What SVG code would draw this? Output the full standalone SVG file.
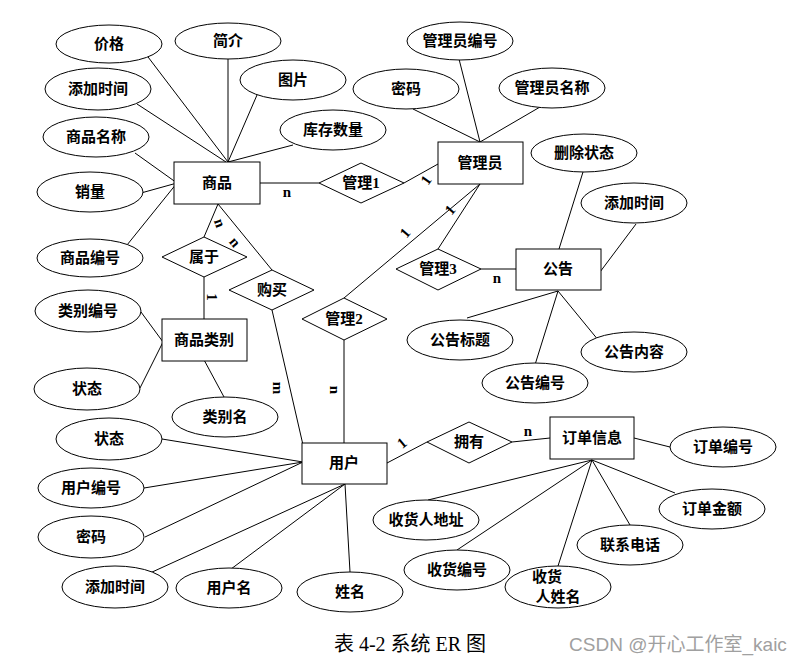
<svg xmlns="http://www.w3.org/2000/svg" width="801" height="662" viewBox="0 0 801 662">
<style>
.e{fill:#fff;stroke:#000;stroke-width:1}
.r{fill:#fff;stroke:#000;stroke-width:1}
.d{fill:#fff;stroke:#000;stroke-width:1}
.t{font-family:"Liberation Serif","Noto Sans CJK SC",serif;font-size:15px;font-weight:bold;text-anchor:middle;dominant-baseline:central;fill:#000}
.l{font-family:"Liberation Serif",serif;font-size:15px;font-weight:bold;text-anchor:middle;dominant-baseline:central;fill:#000}
#conn line{stroke:#000;stroke-width:1}
</style>
<rect width="801" height="662" fill="#fff"/>
<g id="conn">
<line x1="145" y1="53" x2="228" y2="162"/>
<line x1="228" y1="59" x2="228" y2="162"/>
<line x1="257" y1="95" x2="228" y2="162"/>
<line x1="293" y1="145" x2="228" y2="162"/>
<line x1="137" y1="104" x2="226" y2="162"/>
<line x1="135" y1="153" x2="177" y2="183"/>
<line x1="141" y1="193" x2="177" y2="183"/>
<line x1="127" y1="245" x2="177" y2="183"/>
<line x1="260" y1="183" x2="319" y2="183"/>
<line x1="404" y1="183" x2="438" y2="164"/>
<line x1="459" y1="59" x2="480" y2="142"/>
<line x1="413" y1="109" x2="480" y2="142"/>
<line x1="540" y1="107" x2="480" y2="142"/>
<line x1="480" y1="184" x2="438" y2="249"/>
<line x1="480" y1="184" x2="344" y2="298"/>
<line x1="481" y1="269" x2="516" y2="269"/>
<line x1="583" y1="172" x2="559" y2="249"/>
<line x1="636" y1="224" x2="600" y2="272"/>
<line x1="558" y1="291" x2="467" y2="318"/>
<line x1="558" y1="291" x2="534" y2="368"/>
<line x1="558" y1="291" x2="599" y2="341"/>
<line x1="218" y1="204" x2="204" y2="237"/>
<line x1="218" y1="204" x2="272" y2="270"/>
<line x1="204" y1="277" x2="204" y2="319"/>
<line x1="141" y1="312" x2="163" y2="342"/>
<line x1="140" y1="388" x2="163" y2="342"/>
<line x1="203" y1="358" x2="224" y2="397"/>
<line x1="272" y1="310" x2="303" y2="445"/>
<line x1="344" y1="340" x2="344" y2="443"/>
<line x1="162" y1="439" x2="303" y2="462"/>
<line x1="144" y1="488" x2="303" y2="462"/>
<line x1="145" y1="537" x2="303" y2="462"/>
<line x1="150" y1="573" x2="345" y2="484"/>
<line x1="227" y1="572" x2="345" y2="484"/>
<line x1="350" y1="572" x2="345" y2="484"/>
<line x1="387" y1="463" x2="427" y2="442"/>
<line x1="512" y1="442" x2="550" y2="438"/>
<line x1="634" y1="438" x2="670" y2="447"/>
<line x1="592" y1="460" x2="675" y2="493"/>
<line x1="592" y1="460" x2="630" y2="525"/>
<line x1="592" y1="460" x2="558" y2="566"/>
<line x1="592" y1="460" x2="457" y2="550"/>
<line x1="592" y1="460" x2="428" y2="500"/>
<text class="l" x="287" y="192">n</text>
<text class="l" x="426" y="180" transform="rotate(-55 426 180)">1</text>
<text class="l" x="450" y="210" transform="rotate(-50 450 210)">1</text>
<text class="l" x="405" y="233" transform="rotate(-50 405 233)">1</text>
<text class="l" x="497" y="278">n</text>
<text class="l" x="220" y="223" transform="rotate(70 220 223)">n</text>
<text class="l" x="235" y="242" transform="rotate(50 235 242)">n</text>
<text class="l" x="212" y="297" transform="rotate(90 212 297)">1</text>
<text class="l" x="278" y="388" transform="rotate(90 278 388)">m</text>
<text class="l" x="335" y="390" transform="rotate(90 335 390)">n</text>
<text class="l" x="402" y="443" transform="rotate(-40 402 443)">1</text>
<text class="l" x="528" y="431">n</text>
</g>
<g id="jiage"><ellipse class="e" cx="109" cy="44" rx="53" ry="19"/><text class="t" x="109" y="44">价格</text></g>
<g id="jianjie"><ellipse class="e" cx="228" cy="41" rx="53" ry="18"/><text class="t" x="228" y="41">简介</text></g>
<g id="tupian"><ellipse class="e" cx="293" cy="80" rx="53" ry="20"/><text class="t" x="293" y="80">图片</text></g>
<g id="tianjia1"><ellipse class="e" cx="98" cy="89" rx="53" ry="21"/><text class="t" x="98" y="89">添加时间</text></g>
<g id="spmc"><ellipse class="e" cx="96" cy="137" rx="53" ry="20"/><text class="t" x="96" y="137">商品名称</text></g>
<g id="xiaoliang"><ellipse class="e" cx="90" cy="192" rx="53" ry="20"/><text class="t" x="90" y="192">销量</text></g>
<g id="spbh"><ellipse class="e" cx="90" cy="258" rx="53" ry="19"/><text class="t" x="90" y="258">商品编号</text></g>
<g id="kucun"><ellipse class="e" cx="333" cy="130" rx="53" ry="20"/><text class="t" x="333" y="130">库存数量</text></g>
<g id="shangpin"><rect class="r" x="174" y="162" width="86" height="42"/><text class="t" x="217" y="183">商品</text></g>
<g id="guanli1"><polygon class="d" points="319,183 361,163 404,183 361,203"/><text class="t" x="361" y="183">管理1</text></g>
<g id="glybh"><ellipse class="e" cx="460" cy="41" rx="53" ry="19"/><text class="t" x="460" y="41">管理员编号</text></g>
<g id="mima1"><ellipse class="e" cx="406" cy="89" rx="53" ry="20"/><text class="t" x="406" y="89">密码</text></g>
<g id="glymc"><ellipse class="e" cx="552" cy="88" rx="53" ry="20"/><text class="t" x="552" y="88">管理员名称</text></g>
<g id="guanliyuan"><rect class="r" x="438" y="142" width="85" height="42"/><text class="t" x="480" y="163">管理员</text></g>
<g id="shanchu"><ellipse class="e" cx="584" cy="153" rx="53" ry="19"/><text class="t" x="584" y="153">删除状态</text></g>
<g id="tianjia2"><ellipse class="e" cx="634" cy="203" rx="53" ry="20"/><text class="t" x="634" y="203">添加时间</text></g>
<g id="guanli3"><polygon class="d" points="396,269 438,249 481,269 438,290"/><text class="t" x="438" y="269">管理3</text></g>
<g id="gonggao"><rect class="r" x="516" y="249" width="85" height="41"/><text class="t" x="558" y="269">公告</text></g>
<g id="ggbt"><ellipse class="e" cx="460" cy="340" rx="53" ry="20"/><text class="t" x="460" y="340">公告标题</text></g>
<g id="ggnr"><ellipse class="e" cx="634" cy="352" rx="53" ry="20"/><text class="t" x="634" y="352">公告内容</text></g>
<g id="ggbh"><ellipse class="e" cx="535" cy="383" rx="53" ry="20"/><text class="t" x="535" y="383">公告编号</text></g>
<g id="shuyu"><polygon class="d" points="162,257 204,237 247,257 204,277"/><text class="t" x="204" y="257">属于</text></g>
<g id="goumai"><polygon class="d" points="229,290 272,270 314,290 272,310"/><text class="t" x="272" y="290">购买</text></g>
<g id="guanli2"><polygon class="d" points="302,319 344,298 387,319 344,340"/><text class="t" x="344" y="319">管理2</text></g>
<g id="splb"><rect class="r" x="162" y="319" width="85" height="42"/><text class="t" x="204" y="340">商品类别</text></g>
<g id="lbbh"><ellipse class="e" cx="88" cy="311" rx="53" ry="21"/><text class="t" x="88" y="311">类别编号</text></g>
<g id="zhuangtai1"><ellipse class="e" cx="87" cy="389" rx="53" ry="21"/><text class="t" x="87" y="389">状态</text></g>
<g id="lbm"><ellipse class="e" cx="225" cy="417" rx="53" ry="20"/><text class="t" x="225" y="417">类别名</text></g>
<g id="zhuangtai2"><ellipse class="e" cx="109" cy="439" rx="53" ry="21"/><text class="t" x="109" y="439">状态</text></g>
<g id="yhbh"><ellipse class="e" cx="91" cy="488" rx="53" ry="20"/><text class="t" x="91" y="488">用户编号</text></g>
<g id="mima2"><ellipse class="e" cx="91" cy="537" rx="53" ry="21"/><text class="t" x="91" y="537">密码</text></g>
<g id="tianjia3"><ellipse class="e" cx="115" cy="587" rx="53" ry="21"/><text class="t" x="115" y="587">添加时间</text></g>
<g id="yhm"><ellipse class="e" cx="229" cy="588" rx="53" ry="20"/><text class="t" x="229" y="588">用户名</text></g>
<g id="xingming"><ellipse class="e" cx="350" cy="592" rx="53" ry="20"/><text class="t" x="350" y="592">姓名</text></g>
<g id="yonghu"><rect class="r" x="302" y="443" width="85" height="41"/><text class="t" x="344" y="463">用户</text></g>
<g id="yongyou"><polygon class="d" points="427,442 469,422 512,442 469,463"/><text class="t" x="469" y="442">拥有</text></g>
<g id="ddxx"><rect class="r" x="550" y="417" width="84" height="42"/><text class="t" x="592" y="438">订单信息</text></g>
<g id="ddbh"><ellipse class="e" cx="723" cy="447" rx="53" ry="20"/><text class="t" x="723" y="447">订单编号</text></g>
<g id="ddje"><ellipse class="e" cx="712" cy="509" rx="53" ry="20"/><text class="t" x="712" y="509">订单金额</text></g>
<g id="lxdh"><ellipse class="e" cx="630" cy="545" rx="53" ry="20"/><text class="t" x="630" y="545">联系电话</text></g>
<g id="shdz"><ellipse class="e" cx="426" cy="520" rx="53" ry="20"/><text class="t" x="426" y="520">收货人地址</text></g>
<g id="shbh"><ellipse class="e" cx="457" cy="570" rx="53" ry="20"/><text class="t" x="457" y="570">收货编号</text></g>
<g id="shxm"><ellipse class="e" cx="558" cy="587" rx="53" ry="21"/><text class="t" x="547" y="577">收货</text><text class="t" x="558" y="597">人姓名</text></g>
<text x="410" y="644" font-family="Liberation Serif,Noto Sans CJK SC,serif" font-size="20" text-anchor="middle" dominant-baseline="central">表 4-2 系统 ER 图</text>
<text x="678" y="644" font-family="Liberation Sans,Noto Sans CJK SC,sans-serif" font-size="19" fill="#a0a0a0" text-anchor="middle" dominant-baseline="central">CSDN @开心工作室_kaic</text>
</svg>
